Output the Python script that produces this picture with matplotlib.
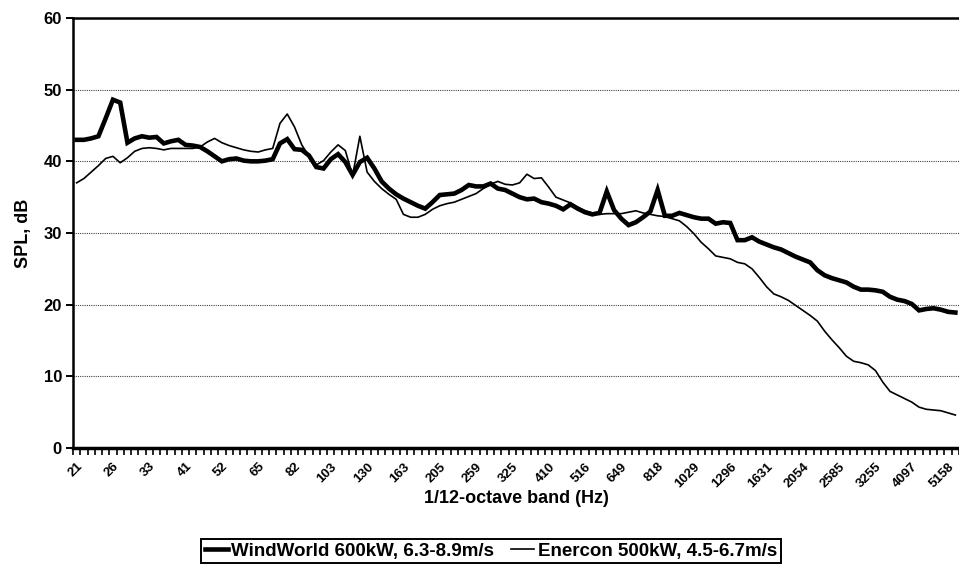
import matplotlib
matplotlib.use("Agg")
import matplotlib.pyplot as plt
from matplotlib.ticker import FixedLocator, NullFormatter

plt.rcParams['font.family'] = ['Liberation Sans', 'DejaVu Sans']

band_labels = ["21", "26", "33", "41", "52", "65", "82", "103", "130", "163", "205", "259",
               "325", "410", "516", "649", "818", "1029", "1296", "1631", "2054", "2585",
               "3255", "4097", "5158"]

windworld = [43.0, 43.0, 43.2, 43.5, 46.0, 48.6, 48.2, 42.6, 43.2, 43.5,
             43.3, 43.4, 42.5, 42.8, 43.0, 42.3, 42.2, 42.0, 41.4, 40.7,
             40.0, 40.3, 40.4, 40.1, 40.0, 40.0, 40.1, 40.3, 42.5, 43.1,
             41.7, 41.6, 40.8, 39.2, 39.0, 40.3, 41.0, 39.9, 38.1, 39.9,
             40.5, 39.0, 37.2, 36.2, 35.4, 34.8, 34.3, 33.8, 33.4, 34.3,
             35.3, 35.4, 35.5, 36.0, 36.7, 36.5, 36.5, 36.9, 36.2, 36.0,
             35.5, 35.0, 34.7, 34.8, 34.3, 34.1, 33.8, 33.3, 34.0, 33.4,
             32.9, 32.6, 32.8, 35.8, 33.2, 32.0, 31.1, 31.5, 32.2, 33.0,
             36.0, 32.4, 32.4, 32.8, 32.5, 32.2, 32.0, 32.0, 31.3, 31.5,
             31.4, 29.0, 29.0, 29.4, 28.8, 28.4, 28.0, 27.7, 27.2, 26.7,
             26.3, 25.9, 24.8, 24.1, 23.7, 23.4, 23.1, 22.5, 22.1, 22.1,
             22.0, 21.8, 21.1, 20.7, 20.5, 20.1, 19.2, 19.4, 19.5, 19.3,
             19.0, 18.9]

enercon = [37.0, 37.6, 38.5, 39.4, 40.4, 40.7, 39.8, 40.5, 41.4, 41.8,
           41.9, 41.8, 41.6, 41.8, 41.8, 41.8, 41.8, 42.0, 42.7, 43.2,
           42.6, 42.2, 41.9, 41.6, 41.4, 41.3, 41.6, 41.8, 45.3, 46.6,
           44.8, 42.3, 40.7, 39.5, 40.1, 41.3, 42.3, 41.5, 38.0, 43.5,
           38.5, 37.2, 36.2, 35.4, 34.7, 32.6, 32.2, 32.2, 32.6, 33.3,
           33.8, 34.1, 34.3, 34.7, 35.1, 35.5, 36.2, 36.8, 37.2, 36.8,
           36.7, 37.0, 38.2, 37.6, 37.7, 36.4, 35.0, 34.6, 34.2, 33.6,
           33.1, 32.8, 32.6, 32.7, 32.7, 32.7, 32.9, 33.1, 32.8, 32.6,
           32.4, 32.3, 32.0, 31.7, 30.9, 29.9, 28.7, 27.8, 26.8, 26.6,
           26.4, 25.9, 25.7, 25.0, 23.8, 22.5, 21.5, 21.1, 20.6, 19.9,
           19.2, 18.5, 17.7, 16.3, 15.1, 14.0, 12.8, 12.1, 11.9, 11.6,
           10.8, 9.2, 7.9, 7.4, 6.9, 6.4, 5.7, 5.4, 5.3, 5.2,
           4.9, 4.6]

label_every = 5
n = len(windworld)
x = list(range(n))

fig = plt.figure(figsize=(9.59, 5.76), dpi=100)
ax = fig.add_axes([73 / 959, 1 - 448 / 576, 1 - 73 / 959, (448 - 18) / 576])

ax.plot(x, windworld, color='black', lw=3.3, solid_joinstyle='miter',
        label='WindWorld 600kW, 6.3-8.9m/s', zorder=3)
ax.plot(x, enercon, color='black', lw=1.2,
        label='Enercon 500kW, 4.5-6.7m/s', zorder=4)

ax.set_xlim(-0.5, n - 0.5)
ax.set_ylim(0, 60)

# y axis
ax.set_yticks(range(0, 61, 10))
ax.tick_params(axis='y', direction='out', length=5, width=1.4, labelsize=12, pad=3)
for lab in ax.get_yticklabels():
    lab.set_fontweight('bold')
ax.yaxis.grid(True, linestyle=(0, (1, 1)), color='#444444', linewidth=0.8)

# x axis: ticks at category boundaries, labels every 5th category
label_pos = [i * label_every for i in range(len(band_labels))]
ax.set_xticks(label_pos)
ax.set_xticklabels(band_labels, rotation=45, ha='right', va='top',
                   rotation_mode='anchor', fontsize=9.5, fontweight='bold')
ax.tick_params(axis='x', which='major', length=0, pad=9)
ax.xaxis.set_minor_locator(FixedLocator([i - 0.5 for i in range(n + 1)]))
ax.xaxis.set_minor_formatter(NullFormatter())
ax.tick_params(axis='x', which='minor', direction='out', length=5, width=1.2)

for side in ['left', 'bottom', 'top']:
    ax.spines[side].set_linewidth(1.8)
    ax.spines[side].set_color('black')
ax.spines['right'].set_visible(False)
ax.spines['bottom'].set_linewidth(2.5)

ax.set_ylabel('SPL, dB', fontsize=13, fontweight='bold', labelpad=8)
ax.set_xlabel('1/12-octave band (Hz)', fontsize=13, fontweight='bold', labelpad=0)

leg = fig.legend(loc='center', bbox_to_anchor=(491 / 959, 1 - 551 / 576), ncol=2,
                 frameon=True, fancybox=False, edgecolor='black', framealpha=1,
                 prop={'weight': 'bold', 'size': 13.5}, handlelength=1.2,
                 handletextpad=0.2, columnspacing=0.9, borderpad=0.2,
                 borderaxespad=0)
leg.get_frame().set_linewidth(1.4)

fig.savefig('out.png', dpi=100)
